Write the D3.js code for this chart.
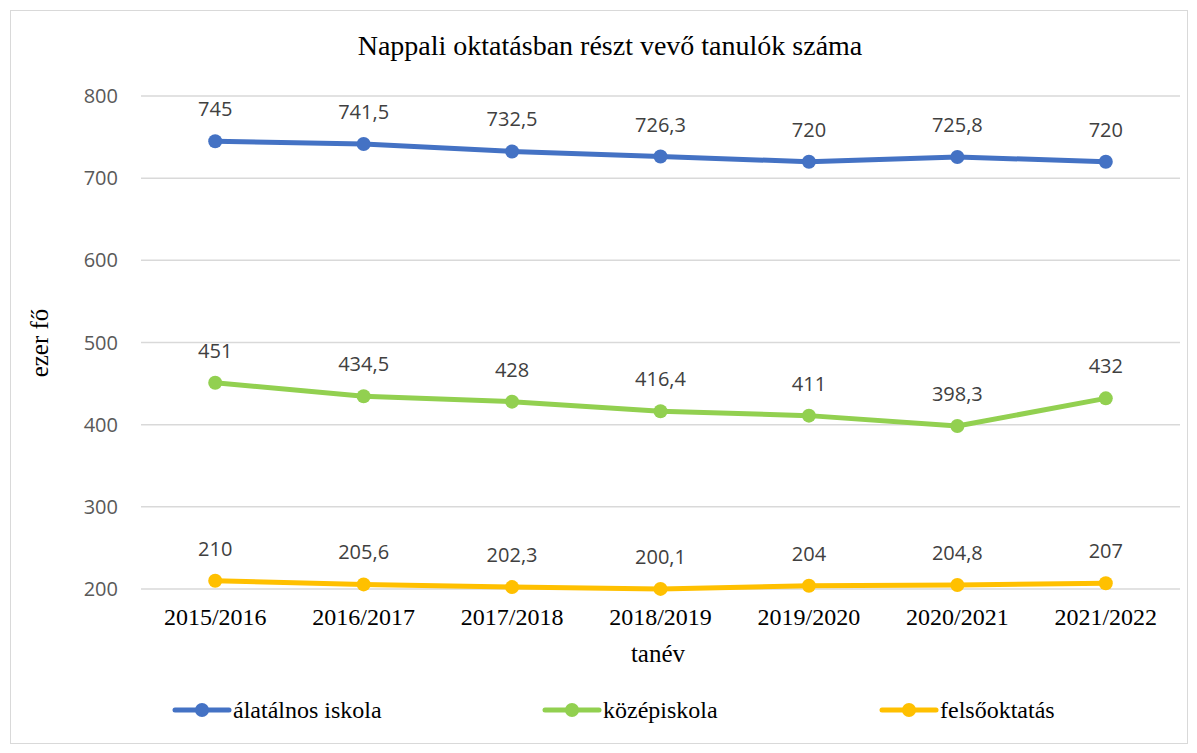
<!DOCTYPE html>
<html>
<head>
<meta charset="utf-8">
<script src="https://cdn.jsdelivr.net/npm/d3@7"></script>
<style>
  body { margin: 0; background: #fff; }
</style>
</head>
<body>
<div class="canvas"></div>
<script>
// data
const years = ['2015/2016','2016/2017','2017/2018','2018/2019','2019/2020','2020/2021','2021/2022'];
const altalanos = [745, 741.5, 732.5, 726.3, 720, 725.8, 720];
const kozep = [451, 434.5, 428, 416.4, 411, 398.3, 432];
const felso = [210, 205.6, 202.3, 200.1, 204, 204.8, 207];
const yTicks = [200, 300, 400, 500, 600, 700, 800];

const series = [
  {name: 'álatálnos iskola', values: altalanos, color: '#4472C4'},
  {name: 'középiskola', values: kozep, color: '#92D050'},
  {name: 'felsőoktatás', values: felso, color: '#FFC000'}
];

const W = 1197, H = 753;
const svg = d3.select('.canvas')
  .append('svg')
    .attr('width', W)
    .attr('height', H);

// chart border
svg.append('rect')
  .attr('x', 10.5).attr('y', 10.5)
  .attr('width', 1177).attr('height', 733)
  .attr('fill', '#fff')
  .attr('stroke', '#d9d9d9');

const left = 141, right = 1180;
const y = d3.scaleLinear().domain([200, 800]).range([589, 96]);
const x = d3.scaleBand().domain(years).range([left, right]);
const cx = d => x(d) + x.bandwidth() / 2;

// gridlines
svg.append('g')
  .selectAll('line')
  .data(yTicks)
  .enter().append('line')
    .attr('x1', left).attr('x2', right)
    .attr('y1', d => y(d)).attr('y2', d => y(d))
    .attr('stroke', '#d9d9d9')
    .attr('stroke-width', 1.5);

// y labels
svg.append('g')
  .selectAll('text')
  .data(yTicks)
  .enter().append('text')
    .attr('x', 118).attr('y', d => y(d))
    .attr('dy', '0.35em')
    .attr('text-anchor', 'end')
    .attr('font-family', 'Open Sans, sans-serif')
    .attr('font-size', 20)
    .attr('fill', '#595959')
    .text(d => d);

// x labels
svg.append('g')
  .selectAll('text')
  .data(years)
  .enter().append('text')
    .attr('x', d => cx(d)).attr('y', 625)
    .attr('text-anchor', 'middle')
    .attr('font-family', 'Liberation Serif, serif')
    .attr('font-size', 24)
    .attr('fill', '#000')
    .text(d => d);

// title + axis titles
svg.append('text')
  .attr('x', 610).attr('y', 55)
  .attr('text-anchor', 'middle')
  .attr('font-family', 'Liberation Serif, serif')
  .attr('font-size', 28)
  .text('Nappali oktatásban részt vevő tanulók száma');

svg.append('text')
  .attr('x', 658).attr('y', 662)
  .attr('text-anchor', 'middle')
  .attr('font-family', 'Liberation Serif, serif')
  .attr('font-size', 25)
  .text('tanév');

svg.append('text')
  .attr('transform', 'translate(48,343) rotate(-90)')
  .attr('text-anchor', 'middle')
  .attr('font-family', 'Liberation Serif, serif')
  .attr('font-size', 25)
  .text('ezer fő');

const line = d3.line()
  .x((d, i) => cx(years[i]))
  .y(d => y(d));

series.forEach(s => {
  const g = svg.append('g');
  g.append('path')
    .attr('d', line(s.values))
    .attr('fill', 'none')
    .attr('stroke', s.color)
    .attr('stroke-width', 5)
    .attr('stroke-linejoin', 'round');
  g.selectAll('circle')
    .data(s.values)
    .enter().append('circle')
      .attr('cx', (d, i) => cx(years[i]))
      .attr('cy', d => y(d))
      .attr('r', 7)
      .attr('fill', s.color);
  g.selectAll('text')
    .data(s.values)
    .enter().append('text')
      .attr('x', (d, i) => cx(years[i]))
      .attr('y', d => y(d) - 25)
      .attr('text-anchor', 'middle')
      .attr('font-family', 'Open Sans, sans-serif')
      .attr('font-size', 20)
      .attr('fill', '#404040')
      .text(d => String(d).replace('.', ','));
});

// legend
const legendX = [175, 545, 882];
series.forEach((s, i) => {
  const g = svg.append('g').attr('transform', `translate(${legendX[i]},710)`);
  g.append('line')
    .attr('x1', 0).attr('x2', 54)
    .attr('stroke', s.color).attr('stroke-width', 5)
    .attr('stroke-linecap', 'round');
  g.append('circle').attr('cx', 27).attr('r', 7).attr('fill', s.color);
  g.append('text')
    .attr('x', 58).attr('dy', '0.35em')
    .attr('font-family', 'Liberation Serif, serif')
    .attr('font-size', 24)
    .text(s.name);
});
</script>
</body>
</html>
